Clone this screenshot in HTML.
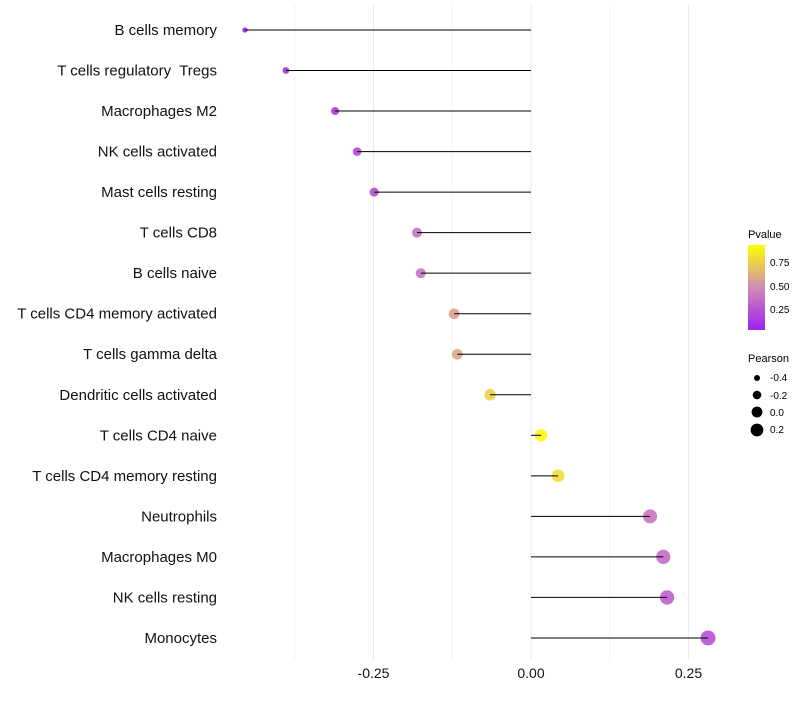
<!DOCTYPE html>
<html><head><meta charset="utf-8"><style>
body{margin:0;background:#fff;font-family:"Liberation Sans",sans-serif}
text{white-space:pre}
</style></head><body>
<svg id="chart" width="800" height="700" xmlns="http://www.w3.org/2000/svg">
<defs><linearGradient id="pg" x1="0" y1="1" x2="0" y2="0">
<stop offset="0" stop-color="#a020f0"/><stop offset="0.5" stop-color="#d08cb4"/><stop offset="1" stop-color="#ffff00"/></linearGradient></defs>
<g id="grid"></g><g id="marks"></g><g id="labels"></g>
<g font-size="10">
<text x="748" y="238" font-size="11">Pvalue</text>
<rect x="748" y="245" width="17" height="85" fill="url(#pg)"/>
<text x="770" y="266">0.75</text><text x="770" y="290">0.50</text><text x="770" y="313">0.25</text>
</g>
<g font-size="10">
<text x="748" y="362" font-size="11">Pearson</text>
<circle cx="757" cy="378" r="3"/><text x="770" y="381">-0.4</text>
<circle cx="757" cy="395" r="4.3"/><text x="770" y="399">-0.2</text>
<circle cx="757" cy="412" r="5.4"/><text x="770" y="416">0.0</text>
<circle cx="757" cy="430" r="6.4"/><text x="770" y="433">0.2</text>
</g>
</svg>
<script>
const categories=["B cells memory","T cells regulatory  Tregs","Macrophages M2","NK cells activated","Mast cells resting","T cells CD8","B cells naive","T cells CD4 memory activated","T cells gamma delta","Dendritic cells activated","T cells CD4 naive","T cells CD4 memory resting","Neutrophils","Macrophages M0","NK cells resting","Monocytes"];
const pearson=[-0.454,-0.389,-0.311,-0.276,-0.249,-0.181,-0.175,-0.122,-0.117,-0.065,0.016,0.043,0.189,0.21,0.216,0.281];
const pvalues=[0.03,0.08,0.13,0.18,0.22,0.4,0.4,0.6,0.62,0.8,0.97,0.85,0.4,0.35,0.3,0.22];
const ticks=[-0.25,0,0.25];
const tickLabels=["-0.25","0.00","0.25"];
const minorTicks=[-0.375,-0.125,0.125];
const NS="http://www.w3.org/2000/svg";
const xs=v=>531+v*630;
const ys=i=>30+i*40.53;
const rs=v=>Math.sqrt(Math.max(2.5,37+66*v));
function lerp(a,b,t){return Math.round(a+(b-a)*t);}
function col(p){const s=[[160,32,240],[208,140,180],[255,255,0]];let t=Math.min(1,Math.max(0,p))*2;let i=t>=1?1:0;t-=i;const a=s[i],b=s[i+1];return `rgb(${lerp(a[0],b[0],t)},${lerp(a[1],b[1],t)},${lerp(a[2],b[2],t)})`;}
function mk(t,a,p){const e=document.createElementNS(NS,t);for(const k in a)e.setAttribute(k,a[k]);p.appendChild(e);return e;}
const g=document.getElementById('grid'),m=document.getElementById('marks'),L=document.getElementById('labels');
minorTicks.forEach(v=>{const e=mk('line',{x1:xs(v),x2:xs(v),y1:5,y2:660,stroke:'#f4f4f4','stroke-width':1},g);

});
ticks.forEach((v,i)=>{const e=mk('line',{x1:xs(v),x2:xs(v),y1:5,y2:660,stroke:'#ebebeb','stroke-width':1},g);


const t=mk('text',{x:xs(v),y:678,'text-anchor':'middle','font-size':14,fill:'#111'},L);t.textContent=tickLabels[i];

});
categories.forEach((c,i)=>{const y=ys(i);
const t=mk('text',{x:217,y:y+5,'text-anchor':'end','font-size':15,fill:'#111'},L);t.textContent=c;


const d=mk('circle',{cx:xs(pearson[i]),cy:y,r:rs(pearson[i]),fill:col(pvalues[i]),'fill-opacity':0.9},m);


const l=mk('line',{x1:xs(0),x2:xs(pearson[i]),y1:y,y2:y,stroke:'#000','stroke-width':1},m);

});
</script>
</body></html>
